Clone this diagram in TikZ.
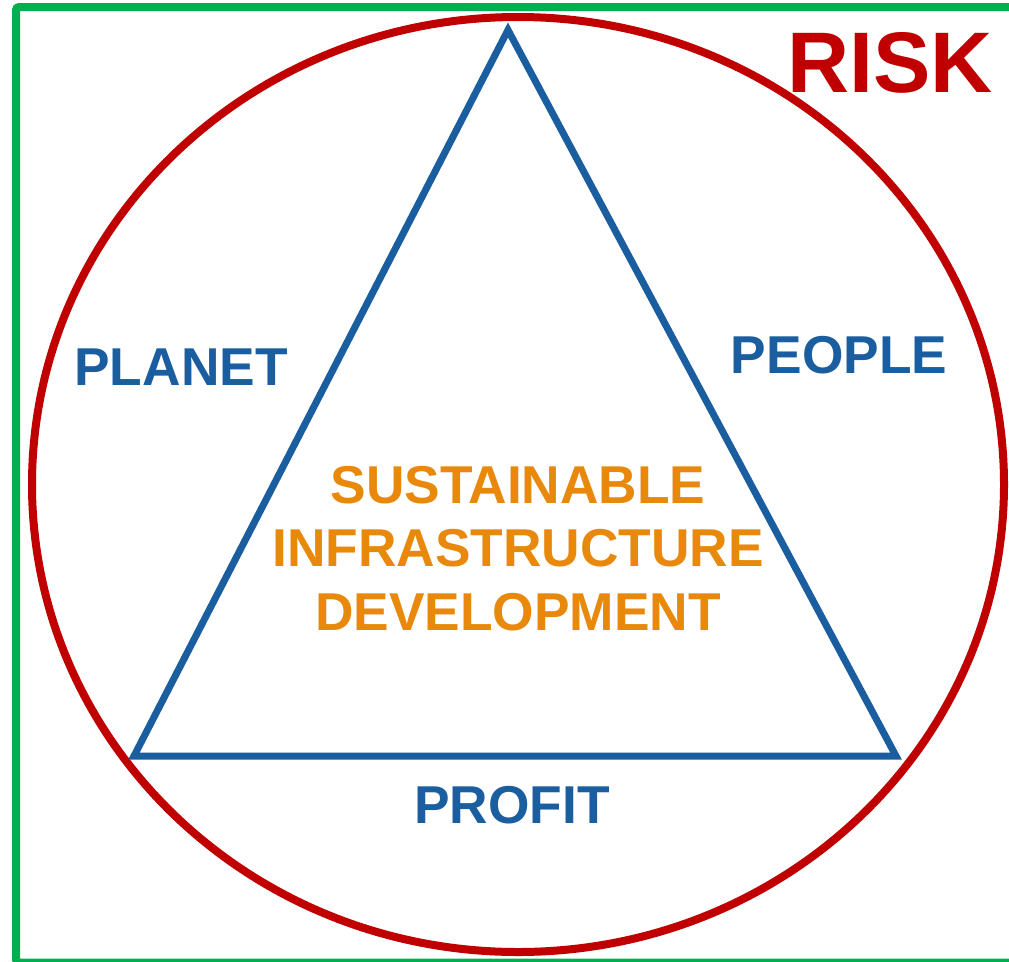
\documentclass[tikz,border=0pt]{standalone}
\usepackage{fontspec}
\setmainfont{Liberation Sans}
\definecolor{riskred}{HTML}{C00000}
\definecolor{pblue}{HTML}{1A5EA0}
\definecolor{frgreen}{HTML}{00B050}
\definecolor{sorange}{HTML}{E8890C}
\tikzset{
  lbl/.style={font=\bfseries\fontsize{53.3}{62}\selectfont, text=pblue, anchor=base, inner sep=0pt},
  core/.style={font=\bfseries\fontsize{53.3}{62}\selectfont, text=sorange, anchor=base, inner sep=0pt},
  risklbl/.style={font=\bfseries\fontsize{86}{90}\selectfont, text=riskred, anchor=base, inner sep=0pt},
  frame/.style={draw=frgreen, line width=8pt, rounded corners=3pt},
  ring/.style={draw=riskred, line width=8pt},
  tri/.style={draw=pblue, line width=7pt, line join=miter}
}
\begin{document}
\begin{tikzpicture}[x=1pt,y=-1pt]
\useasboundingbox (0,0) rectangle (1009,961);
\clip (0,0) rectangle (1009,961);
\fill[white] (0,0) rectangle (1009,961);
\draw[frame] (1030,7) -- (16,7) -- (16,962.5) -- (1030,962.5);
\draw[ring] (518,484.5) ellipse [x radius=486, y radius=467.5];
\coordinate (apex) at (508,30);
\coordinate (bl) at (134,756);
\coordinate (br) at (896,756);
\draw[tri] (apex) -- (bl) -- (br) -- cycle;
\node[risklbl] (risk) at (890,92) {RISK};
\node[lbl] (planet) at (181,385) {PLANET};
\node[lbl] (people) at (839,373) {PEOPLE};
\node[lbl] (profit) at (512,823) {PROFIT};
\node[core] (c1) at (518,503) {SUSTAINABLE};
\node[core] (c2) at (518,566) {INFRASTRUCTURE};
\node[core] (c3) at (518,630) {DEVELOPMENT};
\end{tikzpicture}
\end{document}
